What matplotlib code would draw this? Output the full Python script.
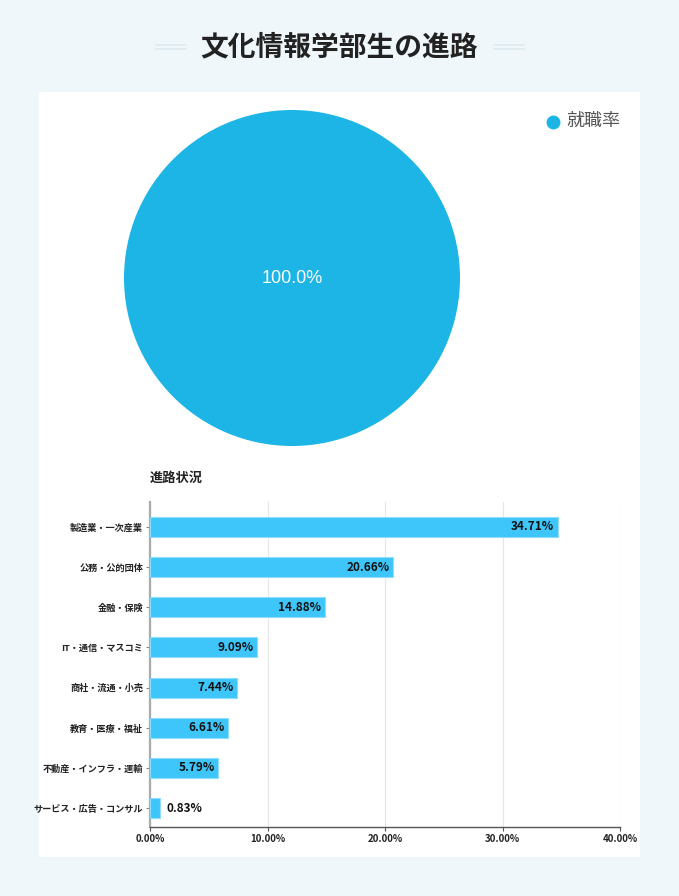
import matplotlib
matplotlib.use("Agg")
import matplotlib.pyplot as plt
from matplotlib.patches import Rectangle
from matplotlib.lines import Line2D
from matplotlib.ticker import FuncFormatter

plt.rcParams['font.family'] = ['Noto Sans CJK JP', 'DejaVu Sans']

# data
title = "文化情報学部生の進路"
pie_labels = ["就職率"]
pie_values = [100.0]
bar_title = "進路状況"
categories = ["製造業・一次産業", "公務・公的団体", "金融・保険", "IT・通信・マスコミ",
              "商社・流通・小売", "教育・医療・福祉", "不動産・インフラ・運輸", "サービス・広告・コンサル"]
shares = [34.71, 20.66, 14.88, 9.09, 7.44, 6.61, 5.79, 0.83]
x_ticks = [0, 10, 20, 30, 40]

W, H = 679, 896
fig = plt.figure(figsize=(W / 100, H / 100), dpi=100)
fig.patch.set_facecolor("#eff7fb")

def fx(px):
    return px / W

def fy(py):
    return 1 - py / H

# white panel (behind the axes)
fig.patches.append(Rectangle((fx(39), fy(857)), fx(640) - fx(39), fy(92) - fy(857),
                             transform=fig.transFigure, facecolor="white", edgecolor="none", zorder=-5))

# title with side lines
fig.text(fx(339), fy(47), title, ha="center", va="center", fontsize=20, fontweight="bold", color="#222222")
for x0, x1 in [(156, 186), (494, 524)]:
    for yy in (45, 49):
        fig.lines.append(Line2D([fx(x0), fx(x1)], [fy(yy), fy(yy)], transform=fig.transFigure,
                                color="#dce9ee", lw=1.2))

# pie
ax1 = fig.add_axes([fx(124), fy(446), fx(460) - fx(124), fy(110) - fy(446)])
ax1.pie(pie_values, colors=["#1db5e5"], startangle=90, radius=1.0,
        autopct="%.1f%%", textprops=dict(color="white", fontsize=13, family="Liberation Sans"),
        pctdistance=0.0)
ax1.set_xlim(-1, 1)
ax1.set_ylim(-1, 1)
ax1.set_aspect("equal")
ax1.axis("off")

# legend
fig.lines.append(Line2D([fx(553)], [fy(122)], transform=fig.transFigure, marker="o", markersize=9,
                        color="#1db5e5", linestyle="none"))
fig.text(fx(566), fy(121), pie_labels[0], ha="left", va="center", fontsize=13, color="#555555")

# bar chart
ax2 = fig.add_axes([fx(150), fy(827), fx(620) - fx(150), fy(502) - fy(827)])
ypos = list(range(len(categories)))
ax2.barh(ypos, shares, height=0.5, color="#3ec6fb", edgecolor="#8fdcfb", linewidth=0.8, zorder=3)
ax2.set_ylim(len(categories) - 1 + 0.47, -0.62)
ax2.set_xlim(0, 40)
ax2.set_xticks(x_ticks)
ax2.xaxis.set_major_formatter(FuncFormatter(lambda v, p: f"{v:.2f}%"))
ax2.set_yticks(ypos)
ax2.set_yticklabels(categories)
ax2.tick_params(axis="y", labelsize=6.6, length=3, width=0.8, color="#888888", pad=2)
ax2.tick_params(axis="x", labelsize=7, length=3, width=0.8, color="#555555", pad=2)
for lab in ax2.get_yticklabels() + ax2.get_xticklabels():
    lab.set_color("#222222")
    lab.set_fontweight("bold")
ax2.grid(axis="x", color="#e6e6e6", lw=0.8, zorder=0)
ax2.set_axisbelow(True)
for s in ["top", "right"]:
    ax2.spines[s].set_visible(False)
ax2.spines["left"].set_color("#aaaaaa")
ax2.spines["left"].set_linewidth(1.6)
ax2.spines["bottom"].set_color("#555555")
ax2.spines["bottom"].set_linewidth(1.0)
ax2.set_facecolor("white")

for y, v in zip(ypos, shares):
    if v > 3:
        ax2.text(v - 0.3, y, f"{v:.2f}%", ha="right", va="center", fontsize=8.5,
                 fontweight="bold", color="#111111", zorder=4)
    else:
        ax2.text(v + 0.6, y, f"{v:.2f}%", ha="left", va="center", fontsize=8.5,
                 fontweight="bold", color="#111111", zorder=4)

fig.text(fx(150), fy(478), bar_title, ha="left", va="center", fontsize=9.5, fontweight="bold", color="#222222")

fig.savefig("out.png", dpi=100, facecolor=fig.get_facecolor())
